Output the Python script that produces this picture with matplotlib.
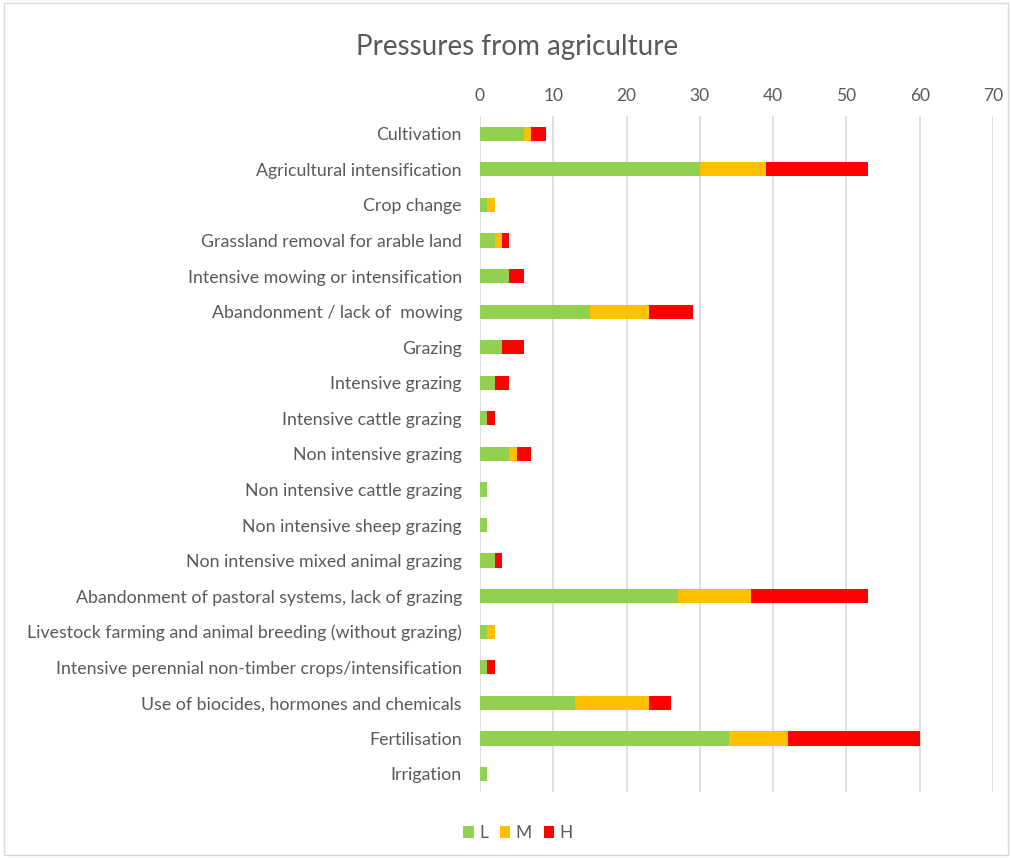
import matplotlib
matplotlib.use("Agg")
import matplotlib.pyplot as plt
import numpy as np
from matplotlib.patches import Rectangle

categories = [
    "Cultivation",
    "Agricultural intensification",
    "Crop change",
    "Grassland removal for arable land",
    "Intensive mowing or intensification",
    "Abandonment / lack of  mowing",
    "Grazing",
    "Intensive grazing",
    "Intensive cattle grazing",
    "Non intensive grazing",
    "Non intensive cattle grazing",
    "Non intensive sheep grazing",
    "Non intensive mixed animal grazing",
    "Abandonment of pastoral systems, lack of grazing",
    "Livestock farming and animal breeding (without grazing)",
    "Intensive perennial non-timber crops/intensification",
    "Use of biocides, hormones and chemicals",
    "Fertilisation",
    "Irrigation",
]
low = [6, 30, 1, 2, 4, 15, 3, 2, 1, 4, 1, 1, 2, 27, 1, 1, 13, 34, 1]
medium = [1, 9, 1, 1, 0, 8, 0, 0, 0, 1, 0, 0, 0, 10, 1, 0, 10, 8, 0]
high = [2, 14, 0, 1, 2, 6, 3, 2, 1, 2, 0, 0, 1, 16, 0, 1, 3, 18, 0]
series_names = ["L", "M", "H"]
colors = ["#92D050", "#FFC000", "#FF0000"]
xticks = [0, 10, 20, 30, 40, 50, 60, 70]

text_color = "#595959"
plt.rcParams["font.family"] = ["Lato", "DejaVu Sans"]

fig = plt.figure(figsize=(10.12, 8.58), dpi=100)
ax = fig.add_axes([0.4743, 0.0772, 0.5069, 0.7876])

y = np.arange(len(categories))
left = np.zeros(len(categories))
for vals, name, col in zip([low, medium, high], series_names, colors):
    vals = np.array(vals, dtype=float)
    ax.barh(y, vals, left=left, height=0.4, color=col, label=name, zorder=3)
    left += vals

ax.set_ylim(len(categories) - 0.5, -0.5)
ax.set_xlim(0, 70)
ax.set_yticks(y)
ax.set_yticklabels(categories, fontsize=12.8, color=text_color)
ax.set_xticks(xticks)
ax.xaxis.tick_top()
ax.tick_params(axis="x", length=0, labelsize=12.5, labelcolor=text_color, pad=9)
ax.tick_params(axis="y", length=0, pad=13)
for s in ax.spines.values():
    s.set_visible(False)
ax.grid(axis="x", color="#D9D9D9", linewidth=1.2, zorder=0)

fig.text(0.511, 0.945, "Pressures from agriculture", ha="center", va="center",
         fontsize=20, color=text_color)

fig.legend(loc="center", bbox_to_anchor=(0.512, 0.029), ncol=3, frameon=False,
           fontsize=12.5, labelcolor=text_color, handlelength=0.6, handleheight=0.6,
           handletextpad=0.3, columnspacing=0.7)

fig.patches.append(Rectangle((0.004, 0.004), 0.992, 0.992, transform=fig.transFigure,
                             fill=False, edgecolor="#D9D9D9", linewidth=1))

fig.savefig("out.png", dpi=100)
